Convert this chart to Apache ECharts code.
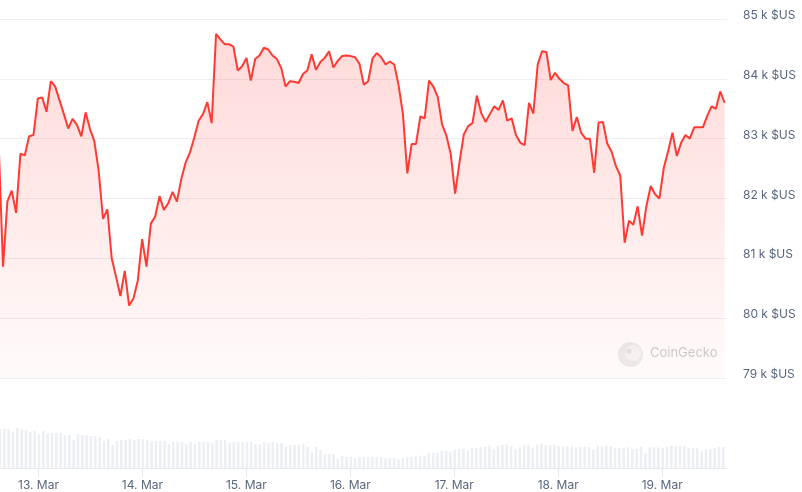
<!DOCTYPE html>
<html>
<head>
<meta charset="utf-8">
<script src="https://cdn.jsdelivr.net/npm/echarts@6/dist/echarts.min.js"></script>
<style>
  html, body { margin: 0; padding: 0; background: #ffffff; }
  #chart { width: 802px; height: 492px; }
</style>
</head>
<body>
<div id="chart"></div>
<script>
// Hourly BTC price (thousand $US), first sample 12 Mar 2025 15:07 UTC
const startTime = Date.UTC(2025, 2, 12, 15, 7);
const axisStart = Date.UTC(2025, 2, 12, 15, 25);
const axisEnd = Date.UTC(2025, 2, 19, 14, 40);

const priceK = [
  82.90,
  80.86, 81.95, 82.13, 81.76, 82.75, 82.72, 83.04, 83.06, 83.67, 83.69,
  83.45, 83.96, 83.87, 83.64, 83.41, 83.17, 83.33, 83.23, 83.04, 83.44,
  83.16, 82.96, 82.46, 81.66, 81.82, 81.00, 80.69, 80.37, 80.79, 80.21,
  80.33, 80.63, 81.32, 80.86, 81.58, 81.70, 82.04, 81.81, 81.92, 82.11,
  81.95, 82.32, 82.60, 82.77, 83.02, 83.30, 83.41, 83.61, 83.26, 84.75,
  84.66, 84.58, 84.58, 84.54, 84.14, 84.21, 84.35, 83.97, 84.33, 84.39,
  84.52, 84.49, 84.39, 84.33, 84.18, 83.87, 83.96, 83.95, 83.93, 84.08,
  84.14, 84.41, 84.15, 84.28, 84.35, 84.46, 84.19, 84.30, 84.38, 84.39,
  84.38, 84.36, 84.25, 83.90, 83.96, 84.34, 84.43, 84.36, 84.24, 84.29,
  84.24, 83.89, 83.41, 82.42, 82.91, 82.91, 83.37, 83.34, 83.97, 83.87,
  83.70, 83.24, 83.05, 82.74, 82.08, 82.60, 83.07, 83.21, 83.26, 83.72,
  83.43, 83.28, 83.41, 83.54, 83.48, 83.64, 83.30, 83.34, 83.06, 82.93,
  82.89, 83.60, 83.42, 84.24, 84.46, 84.45, 83.98, 84.10, 84.00, 83.93,
  83.89, 83.13, 83.36, 83.10, 83.00, 83.00, 82.43, 83.27, 83.28, 82.92,
  82.78, 82.54, 82.38, 81.26, 81.63, 81.56, 81.87, 81.38, 81.87, 82.21,
  82.07, 82.00, 82.51, 82.79, 83.10, 82.71, 82.93, 83.06, 83.00, 83.19,
  83.19, 83.19, 83.38, 83.54, 83.50, 83.79, 83.60
];

// Hourly volume (relative units)
const volume = [
  39,
  39, 39, 36, 40, 39, 38, 36, 37, 34, 37,
  35, 35, 35, 35, 33, 33, 28, 34, 33, 33,
  32, 32, 31, 27, 29, 23, 27, 28, 28, 29,
  28, 29, 29, 28, 27, 27, 27, 27, 24, 26,
  26, 26, 24, 26, 24, 26, 26, 26, 25, 28,
  28, 28, 25, 26, 26, 26, 26, 26, 24, 24,
  26, 25, 26, 25, 25, 21, 23, 23, 23, 24,
  21, 16, 21, 18, 14, 14, 14, 9, 12, 11,
  11, 10, 11, 11, 11, 11, 11, 11, 10, 10,
  10, 9, 10, 11, 11, 11.7, 12.3, 12.3, 15, 15,
  15, 17.3, 17.3, 16.7, 18.3, 19, 19.3, 17.7, 20, 20,
  21, 21.7, 22.3, 19, 22.3, 23.3, 23.3, 21.7, 19, 20.7,
  23, 23.3, 20.3, 23.3, 24.3, 23, 22.7, 23, 21.7, 21.7,
  21.7, 21.7, 20.7, 21.3, 21.3, 20.7, 18.3, 22.3, 21.7, 22.3,
  21.7, 19.7, 20, 20.3, 20.7, 19, 19.3, 21.7, 15, 21,
  20.7, 20.7, 20, 21, 22.3, 21.7, 21.7, 21.7, 20.3, 19.7,
  20, 16.7, 18.3, 19, 19.7, 21, 21
];

const monthName = 'Mar';
const yTicks = [79000, 80000, 81000, 82000, 83000, 84000, 85000];

const HOUR = 3600 * 1000;
const priceData = priceK.map((v, i) => [startTime + i * HOUR, Math.round(v * 1000)]);
const volumeData = volume.map((v, i) => [startTime + i * HOUR, v]);

const textColor = '#58667e';
const gridColor = '#eceef1';
const fontFamily = 'Inter, "Noto Sans", sans-serif';

const chart = echarts.init(document.getElementById('chart'), null, { renderer: 'canvas' });
chart.setOption({
  useUTC: true,
  animation: false,
  backgroundColor: '#ffffff',
  grid: [
    { left: 0, right: 75, top: 19, height: 359 },
    { left: 0, right: 75, top: 418, height: 50 }
  ],
  xAxis: [
    {
      type: 'time', gridIndex: 0, min: axisStart, max: axisEnd,
      show: false
    },
    {
      type: 'time', gridIndex: 1, min: axisStart, max: axisEnd,
      minInterval: 24 * HOUR, maxInterval: 24 * HOUR,
      axisLine: { show: true, lineStyle: { color: '#e6e8ec', width: 1 } },
      axisTick: { show: true, length: 9, lineStyle: { color: '#e6e8ec' } },
      splitLine: { show: false },
      axisLabel: {
        color: textColor, fontSize: 12, fontFamily: fontFamily, margin: 11,
        showMinLabel: false, showMaxLabel: false,
        formatter: function (val) {
          const d = new Date(val);
          return d.getUTCDate() + '. ' + monthName;
        }
      }
    }
  ],
  yAxis: [
    {
      type: 'value', gridIndex: 0, position: 'right',
      min: yTicks[0], max: yTicks[yTicks.length - 1], interval: 1000,
      axisLine: { show: false }, axisTick: { show: false },
      splitLine: { show: true, lineStyle: { color: gridColor, width: 1 } },
      axisLabel: {
        color: textColor, fontSize: 12, fontFamily: fontFamily, margin: 16,
        verticalAlign: 'bottom', lineHeight: 7,
        formatter: function (v) { return (v / 1000) + ' k $US'; }
      }
    },
    {
      type: 'value', gridIndex: 1, min: 0, max: 50, show: false,
      splitLine: { show: false }
    }
  ],
  graphic: [
    {
      type: 'group', left: 618, top: 342, silent: true,
      children: [
        { type: 'circle', shape: { cx: 12.5, cy: 12.5, r: 12.5 }, style: { fill: '#ececec' } },
        { type: 'circle', shape: { cx: 15, cy: 11, r: 8 }, style: { fill: '#f6f6f6' } },
        { type: 'circle', shape: { cx: 11, cy: 9, r: 2.6 }, style: { fill: '#e2e2e2' } },
        { type: 'text', left: 32, top: 5, style: { text: 'CoinGecko', fill: '#cdcdcd', font: '13px Inter, "Noto Sans", sans-serif' } }
      ]
    }
  ],
  series: [
    {
      type: 'line', xAxisIndex: 0, yAxisIndex: 0,
      data: priceData, showSymbol: false, symbol: 'none',
      clip: true,
      lineStyle: { color: '#ff3a33', width: 2 },
      areaStyle: {
        color: new echarts.graphic.LinearGradient(0, 0, 0, 1, [
          { offset: 0, color: 'rgba(255,58,51,0.27)' },
          { offset: 1, color: 'rgba(255,58,51,0.03)' }
        ])
      },
      z: 3
    },
    {
      type: 'bar', xAxisIndex: 1, yAxisIndex: 1,
      data: volumeData, barWidth: 2.6, clip: true,
      itemStyle: { color: '#eceff3' }
    }
  ]
});
</script>
</body>
</html>
